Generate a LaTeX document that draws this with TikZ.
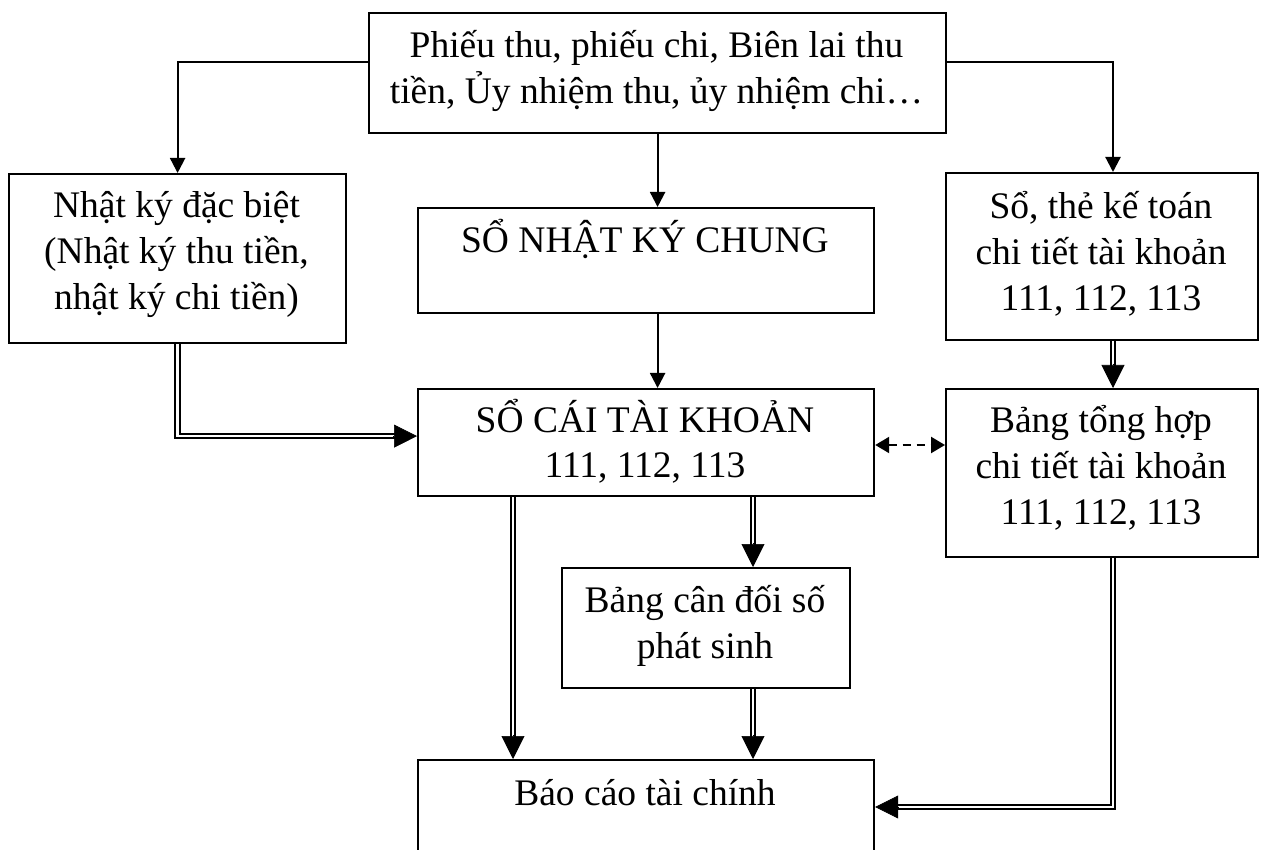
\documentclass[tikz,border=0pt]{standalone}
\usepackage{fontspec}
\setmainfont{Liberation Serif}
\usetikzlibrary{arrows.meta,calc}
% strut that fixes the height and depth of every text line
\newcommand\lnstrut{\rule[-10pt]{0pt}{45pt}}
\begin{document}
\begin{tikzpicture}[x=1pt,y=-1pt,
  box/.style={draw, line width=2.2pt, inner sep=0pt, anchor=north west},
  lbl/.style={inner sep=0pt, align=center, font=\fontsize{37.5}{46}\selectfont},
  conn/.style={line width=2.2pt, -{Triangle[length=15pt,width=15pt]}},
  dbl/.style={double, double distance=2.5pt, line width=2pt, shorten >=21pt},
  bigtip/.style={line width=0.6pt, -{Triangle[length=23pt,width=23pt]}},
  both/.style={line width=2.2pt, dash pattern=on 8pt off 6pt,
    {Triangle[length=14pt,width=16pt]}-{Triangle[length=14pt,width=16pt]}},
]
\useasboundingbox (0,0) rectangle (1262,850);
\clip (0,0) rectangle (1262,850);

% boxes
\node[box, minimum width=577pt, minimum height=120pt] (tb) at (368,12) {};
\node[box, minimum width=337pt, minimum height=169pt] (lb) at (8,173) {};
\node[box, minimum width=456pt, minimum height=105pt] (mb) at (417,207) {};
\node[box, minimum width=312pt, minimum height=167pt] (rb) at (945,172) {};
\node[box, minimum width=456pt, minimum height=107pt] (sc) at (417,388) {};
\node[box, minimum width=312pt, minimum height=168pt] (th) at (945,388) {};
\node[box, minimum width=288pt, minimum height=120pt] (cd) at (561,567) {};
\node[box, minimum width=456pt, minimum height=140pt] (bc) at (417,759) {};

% texts
\node[lbl] (ttb) at (656.5,68.5) {\lnstrut Phiếu thu, phiếu chi, Biên lai thu\\\lnstrut tiền, Ủy nhiệm thu, ủy nhiệm chi…};
\node[lbl] (tlb) at (176.5,251) {\lnstrut Nhật ký đặc biệt\\\lnstrut (Nhật ký thu tiền,\\\lnstrut nhật ký chi tiền)};
\node[lbl, anchor=base] (tmb) at (645,253) {SỔ NHẬT KÝ CHUNG};
\node[lbl] (trb) at (1101,252) {\lnstrut Sổ, thẻ kế toán\\\lnstrut chi tiết tài khoản\\\lnstrut 111, 112, 113};
\node[lbl] (tsc) at (645,442.5) {\lnstrut SỔ CÁI TÀI KHOẢN\\\lnstrut 111, 112, 113};
\node[lbl] (tth) at (1101,466) {\lnstrut Bảng tổng hợp\\\lnstrut chi tiết tài khoản\\\lnstrut 111, 112, 113};
\node[lbl] (tcd) at (705,622.5) {\lnstrut Bảng cân đối số\\\lnstrut phát sinh};
\node[lbl, anchor=base] (tbc) at (645,805) {Báo cáo tài chính};

% connector columns and rows
\coordinate (xA) at (513,0);
\coordinate (xB) at (753,0);
\coordinate (xC) at (1113,0);
\coordinate (yD) at (0,445);
\coordinate (yE) at (0,807);

% single arrows
\draw[conn] ([yshift=11pt]tb.west) -| (lb.north);
\draw[conn] ([yshift=11pt]tb.east) -| (rb.north -| xC);
\draw[conn] (tb.south) -- (tb.south |- mb.north);
\draw[conn] (tb.south |- mb.south) -- (tb.south |- sc.north);

% double arrows
\draw[dbl] (lb.south) |- ([yshift=6.5pt]sc.west);
\draw[bigtip] ($([yshift=6.5pt]sc.west)+(-24,0)$) -- ([yshift=6.5pt]sc.west);

\draw[dbl] (rb.south -| xC) -- (th.north -| xC);
\draw[bigtip] ($(th.north -| xC)+(0,-24)$) -- (th.north -| xC);

\draw[dbl] (sc.south -| xA) -- (bc.north -| xA);
\draw[bigtip] ($(bc.north -| xA)+(0,-24)$) -- (bc.north -| xA);

\draw[dbl] (sc.south -| xB) -- (cd.north -| xB);
\draw[bigtip] ($(cd.north -| xB)+(0,-24)$) -- (cd.north -| xB);

\draw[dbl] (cd.south -| xB) -- (bc.north -| xB);
\draw[bigtip] ($(bc.north -| xB)+(0,-24)$) -- (bc.north -| xB);

\draw[dbl] (th.south -| xC) |- (bc.east |- yE);
\draw[bigtip] ($(bc.east |- yE)+(24,0)$) -- (bc.east |- yE);

% dashed two-way link
\draw[both] (sc.east |- yD) -- (th.west |- yD);
\end{tikzpicture}
\end{document}
